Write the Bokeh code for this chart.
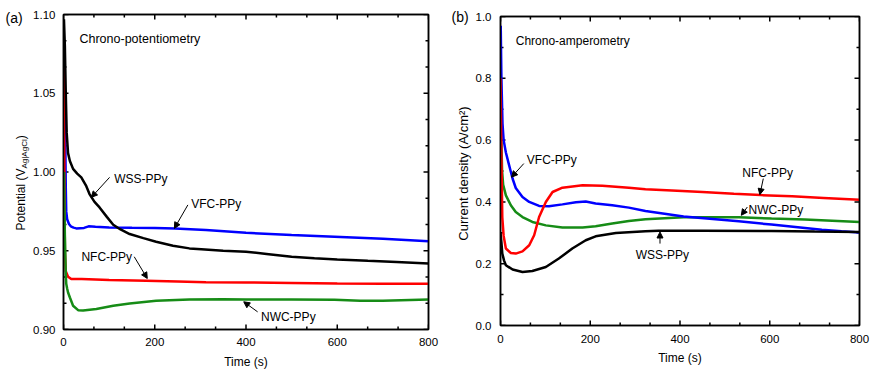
import math
from bokeh.plotting import figure
from bokeh.layouts import row
from bokeh.models import (Range1d, FixedTicker, LinearAxis,
                          NumeralTickFormatter, CustomJSTickFormatter, Label, Arrow,
                          NormalHead)
from bokeh.core.properties import value
from bokeh.embed import file_html
from bokeh.resources import INLINE

FONT = "Liberation Sans"

# ---------------- ticks ----------------
x_ticks = [0, 200, 400, 600, 800]
ya_ticks = [0.90, 0.95, 1.00, 1.05, 1.10]
yb_ticks = [0.0, 0.2, 0.4, 0.6, 0.8, 1.0]

# ---------------- data: (a) chrono-potentiometry ----------------
a_wss_t = [1, 3, 5, 7, 10, 14, 21, 30, 39, 50, 57, 68, 79, 95, 109, 125, 145, 175, 203,
           240, 276, 302, 350, 400, 450, 500, 550, 600, 667, 730, 800]
a_wss_v = [1.097, 1.08, 1.05, 1.025, 1.012, 1.007, 1.002, 0.999, 0.9966, 0.991, 0.986,
           0.981, 0.9775, 0.9715, 0.9665, 0.9635, 0.9606, 0.958, 0.9557, 0.9532, 0.9515,
           0.9510, 0.9500, 0.9494, 0.9478, 0.9462, 0.9452, 0.9445, 0.9436, 0.9428, 0.9419]

a_vfc_t = [0, 3, 5, 6, 8, 12, 16, 22, 28, 45, 55, 70, 100, 150, 200, 244, 312, 400,
           500, 594, 700, 800]
a_vfc_v = [1.08, 1.05, 0.99, 0.975, 0.970, 0.967, 0.9655, 0.9647, 0.9642, 0.9645,
           0.9655, 0.9652, 0.9648, 0.9646, 0.9645, 0.9642, 0.9632, 0.9614, 0.9600,
           0.9589, 0.9576, 0.9561]

a_nfc_t = [0, 2, 3, 5, 10, 17, 40, 100, 181, 250, 312, 400, 500, 600, 700, 800]
a_nfc_v = [1.085, 1.00, 0.95, 0.937, 0.9335, 0.932, 0.932, 0.9315, 0.9310, 0.9305,
           0.9300, 0.9299, 0.9296, 0.9292, 0.9290, 0.9290]

a_nwc_t = [1, 3, 5, 6, 8, 10, 14, 21, 32, 43, 72, 109, 145, 203, 276, 350, 400, 500,
           594, 650, 700, 800]
a_nwc_v = [1.000, 0.960, 0.935, 0.929, 0.926, 0.9235, 0.9203, 0.9151, 0.9123, 0.9121,
           0.9130, 0.9151, 0.9165, 0.9182, 0.9191, 0.9192, 0.9191, 0.9190, 0.9189,
           0.9182, 0.9183, 0.9191]

# ---------------- data: (b) chrono-amperometry ----------------
b_wss_t = [0, 2, 4, 8, 12, 27, 49, 71, 101, 130, 160, 190, 212, 257, 323, 352, 450,
           604, 700, 800]
b_wss_v = [0.30, 0.27, 0.233, 0.21, 0.195, 0.181, 0.1733, 0.1765, 0.1895, 0.2166,
           0.249, 0.2758, 0.2887, 0.2994, 0.3049, 0.307, 0.307, 0.306, 0.304, 0.3026]

b_nfc_t = [0, 2, 4, 7, 12, 23, 34, 49, 64, 75, 86, 101, 116, 138, 183, 227, 286, 323,
           382, 450, 520, 580, 650, 720, 800]
b_nfc_v = [0.80, 0.55, 0.35, 0.29, 0.249, 0.2348, 0.2328, 0.240, 0.2596, 0.292, 0.351,
           0.3997, 0.432, 0.446, 0.4536, 0.452, 0.446, 0.441, 0.437, 0.432, 0.426,
           0.422, 0.418, 0.413, 0.407]

b_vfc_t = [0.5, 2, 4.5, 7, 12, 19, 27, 34, 49, 64, 86, 108, 138, 168, 190, 212, 249,
           286, 323, 408, 531, 604, 716, 760, 800]
b_vfc_v = [0.97, 0.80, 0.653, 0.60, 0.56, 0.52, 0.475, 0.445, 0.416, 0.400, 0.387,
           0.386, 0.392, 0.3986, 0.401, 0.395, 0.389, 0.3815, 0.3705, 0.353, 0.337,
           0.3265, 0.310, 0.305, 0.301]

b_nwc_t = [0, 1, 2, 3.5, 6, 12, 23, 34, 49, 71, 101, 138, 183, 212, 249, 286, 323,
           408, 531, 604, 678, 800]
b_nwc_v = [0.95, 0.75, 0.60, 0.50, 0.455, 0.421, 0.389, 0.367, 0.351, 0.335, 0.324,
           0.317, 0.317, 0.321, 0.3298, 0.338, 0.344, 0.350, 0.350, 0.346, 0.343, 0.335]

BLACK = "#000000"
BLUE = "#0000ff"
RED = "#ff0000"
GREEN = "#168c16"
LW = 2.5
H = 372
TW = 1.5
MAJ, MIN = 5, 3


def no_align(f):
    if "frame_align" in f.properties():
        f.frame_align = False


def is_major(v, majors):
    return any(abs(v - m) < 1e-9 for m in majors)


def draw_ticks(p, xminor, yminor, yticks, x0, x1, y0, y1, xpp, ypp):
    """Tick marks on all four frame edges, drawn as glyph lines inside the frame."""
    xs, ys = [], []
    for x in xminor:
        L = MAJ if is_major(x, x_ticks) else MIN
        xs.append([x, x]); ys.append([y0, y0 + L * ypp])   # bottom
        xs.append([x, x]); ys.append([y1, y1 - L * ypp])   # top
    for y in yminor:
        L = MAJ if is_major(y, yticks) else MIN
        xs.append([x0, x0 + L * xpp]); ys.append([y, y])   # left
        xs.append([x1, x1 - L * xpp]); ys.append([y, y])   # right
    p.multi_line(xs=xs, ys=ys, line_color="black", line_width=TW)


def hide_axis_ticks(ax, inward):
    ax.major_tick_line_color = None
    ax.minor_tick_line_color = None
    if inward:
        ax.major_tick_in, ax.major_tick_out = MAJ, 0
        ax.minor_tick_in, ax.minor_tick_out = MIN, 0
    else:
        ax.major_tick_in, ax.major_tick_out = 0, MAJ
        ax.minor_tick_in, ax.minor_tick_out = 0, MIN


def make_fig(width, yrange, xminor, yticks, yminor, yfmt, borders, lstand, astand):
    left, right, top, bottom = borders
    p = figure(width=width, height=H, x_range=Range1d(0, 800), y_range=yrange,
               output_backend="svg", toolbar_location=None,
               min_border_left=left, min_border_right=right,
               min_border_top=top, min_border_bottom=bottom)
    no_align(p)
    p.xgrid.visible = False
    p.ygrid.visible = False
    p.outline_line_color = "black"
    p.outline_line_width = 1.5
    xax, yax = p.xaxis[0], p.yaxis[0]
    xax.ticker = FixedTicker(ticks=x_ticks, minor_ticks=xminor)
    yax.ticker = FixedTicker(ticks=yticks, minor_ticks=yminor)
    yax.formatter = NumeralTickFormatter(format=yfmt)
    xax.formatter = NumeralTickFormatter(format="0")
    for ax in (xax, yax):
        ax.axis_line_width = 1.5
        ax.axis_line_color = "black"
        hide_axis_ticks(ax, False)
        ax.major_label_text_font = FONT
        ax.major_label_text_font_size = "11.5px"
        ax.major_label_text_color = "black"
        ax.major_label_standoff = lstand
        ax.axis_label_text_font = FONT
        ax.axis_label_text_font_size = "12px"
        ax.axis_label_text_font_style = "normal"
        ax.axis_label_text_color = "black"
        ax.axis_label_standoff = astand
    xax.axis_label = "Time (s)"
    for loc, tk in (("above", FixedTicker(ticks=x_ticks, minor_ticks=xminor)),
                    ("right", FixedTicker(ticks=yticks, minor_ticks=yminor))):
        ax = LinearAxis(ticker=tk, formatter=CustomJSTickFormatter(code="return ''"),
                        major_label_text_font_size="0px", major_label_standoff=0,
                        axis_line_width=1.5, axis_line_color="black")
        hide_axis_ticks(ax, True)
        p.add_layout(ax, loc)
    return p


def label_fig(width):
    f = figure(width=width, height=H, x_range=Range1d(0, width), y_range=Range1d(0, H),
               output_backend="svg", toolbar_location=None,
               x_axis_location=None, y_axis_location=None,
               min_border=0, min_border_left=0, min_border_right=0,
               min_border_top=0, min_border_bottom=0)
    no_align(f)
    f.grid.visible = False
    f.outline_line_color = None
    return f


def side_text(f, x, y_top, text, size, angle=0.0, align="left"):
    f.text(x=[x], y=[H - y_top], text=[text], text_font=value(FONT),
           text_font_size=value(size), text_color="black", angle=angle,
           text_align=align, text_baseline="middle")


def lab(p, x, y, text, size="12px"):
    p.add_layout(Label(x=x, y=y, text=text, text_font=FONT, text_font_size=size,
                       text_color="black", text_baseline="middle", text_align="left"))


def arr(p, xs, ys, xe, ye):
    p.add_layout(Arrow(end=NormalHead(size=6, line_color="black", fill_color="black",
                                      line_width=1),
                       x_start=xs, y_start=ys, x_end=xe, y_end=ye,
                       line_color="black", line_width=1))


xminor = [i * 200 / 3 for i in range(13)]

# ---------------- panel (a) ----------------
fa = label_fig(30)
side_text(fa, 5, 17, "(a)", "14px")
side_text(fa, 20, 230, "Potential (V", "12px", angle=math.pi / 2)
side_text(fa, 23.5, 168, "Ag|AgCl", "8px", angle=math.pi / 2)
side_text(fa, 20, 138.8, ")", "12px", angle=math.pi / 2)

ya_minor = [0.90 + i * 0.05 / 3 for i in range(13)]
p1 = make_fig(410, Range1d(0.90, 1.10), xminor, ya_ticks, ya_minor,
              "0.00", (32, 12, 14, 43), 3, 6)
draw_ticks(p1, xminor, ya_minor, ya_ticks, 0, 800, 0.90, 1.10, 800 / 366, 0.2 / 315)
p1.line(a_vfc_t, a_vfc_v, line_color=BLUE, line_width=LW)
p1.line(a_nfc_t, a_nfc_v, line_color=RED, line_width=LW)
p1.line(a_nwc_t, a_nwc_v, line_color=GREEN, line_width=LW)
p1.line(a_wss_t, a_wss_v, line_color=BLACK, line_width=LW)

lab(p1, 35, 1.0847, "Chrono-potentiometry", size="12.5px")
lab(p1, 111, 0.9958, "WSS-PPy")
arr(p1, 101, 0.9966, 61, 0.9839)
lab(p1, 280, 0.9799, "VFC-PPy")
arr(p1, 272.6, 0.9791, 243, 0.9642)
lab(p1, 39.3, 0.9462, "NFC-PPy")
arr(p1, 155, 0.9462, 183.6, 0.9324)
lab(p1, 432.8, 0.9081, "NWC-PPy")
arr(p1, 425.5, 0.9112, 395, 0.9176)

# ---------------- panel (b) ----------------
fb = label_fig(32)
side_text(fb, 11, 16, "(b)", "14px")
side_text(fb, 23, 173, "Current density (A/cm\u00b2)", "13px", angle=math.pi / 2,
          align="center")

yb_minor = [i * 0.1 for i in range(11)]
p2 = make_fig(406, Range1d(0.0, 1.0), xminor, yb_ticks, yb_minor,
              "0.0", (28, 19, 16, 47), 4, 5)
draw_ticks(p2, xminor, yb_minor, yb_ticks, 0, 800, 0.0, 1.0, 800 / 359, 1.0 / 309)
p2.line(b_nwc_t, b_nwc_v, line_color=GREEN, line_width=LW)
p2.line(b_vfc_t, b_vfc_v, line_color=BLUE, line_width=LW)
p2.line(b_nfc_t, b_nfc_v, line_color=RED, line_width=LW)
p2.line(b_wss_t, b_wss_v, line_color=BLACK, line_width=LW)

lab(p2, 34, 0.920, "Chrono-amperometry")
lab(p2, 58.6, 0.534, "VFC-PPy")
arr(p2, 51.9, 0.524, 24.5, 0.480)
lab(p2, 538.9, 0.4947, "NFC-PPy")
arr(p2, 585.6, 0.4753, 578, 0.4235)
lab(p2, 552.9, 0.3728, "NWC-PPy")
arr(p2, 550, 0.3834, 536.6, 0.3566)
lab(p2, 301.3, 0.2273, "WSS-PPy")
arr(p2, 355.4, 0.2651, 355.4, 0.3026)

layout = row(fa, p1, fb, p2)
open("out.html", "w").write(file_html(layout, INLINE))
